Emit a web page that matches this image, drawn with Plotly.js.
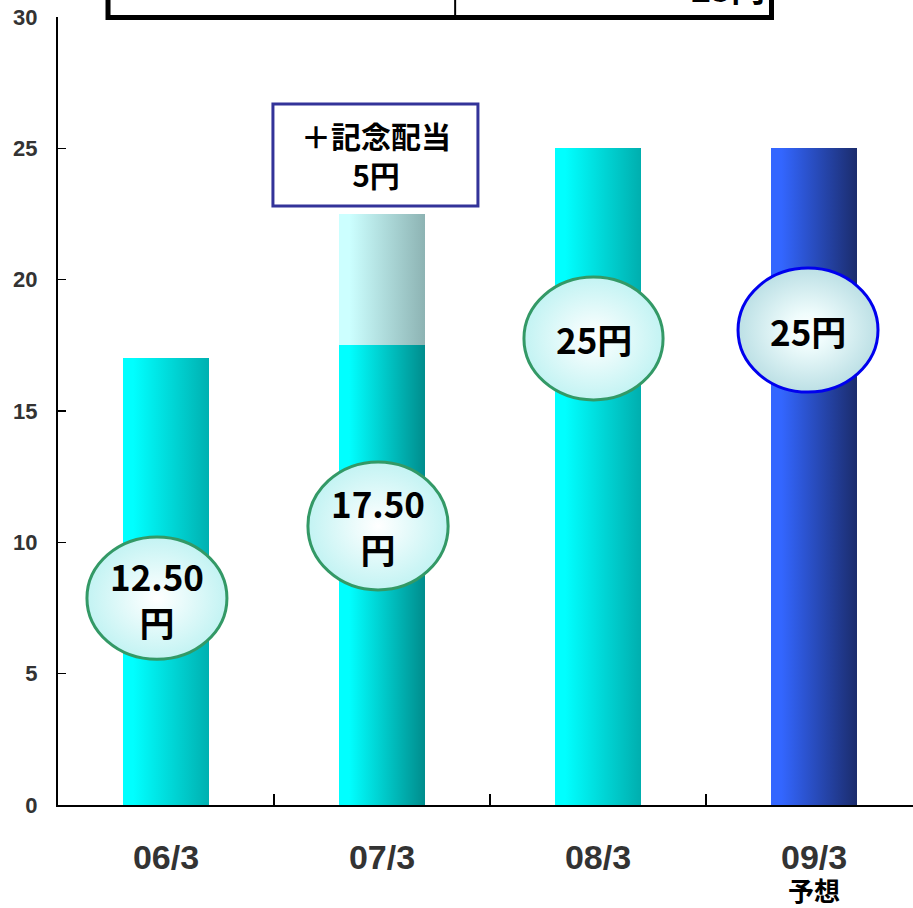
<!DOCTYPE html>
<html><head><meta charset="utf-8">
<script src="https://cdn.plot.ly/plotly-3.0.1.min.js"></script>
<style>html,body{margin:0;padding:0;background:#fff}#chart{width:913px;height:908px}</style>
</head><body><div id="chart"></div>
<script>
// ---- data ----
const categories = ['06/3', '07/3', '08/3', '09/3'];
const tickLabels = ['06/3', '07/3', '08/3', '09/3'];
const forecastNote = '予想';          // shown under the 09/3 label
const forecastCategory = '09/3';
const ordinaryDividend = [17, 17.5, 25, 25];
const commemorativeDividend = [0, 5, 0, 0];
const bubbleLabels = ['12.50<br>円', '17.50<br>円', '25円', '25円'];
const noteText = '＋記念配当<br>5円';
const topBoxText = '25円';

// ---- styling (not data) ----
const gradOrdinary = [['#00FFFF', '#00B0B0'], ['#00FFFF', '#008C8C'], ['#00FFFF', '#00AEAE'], ['#3366FF', '#1B2C6C']];
const gradCommem = ['#CCFFFF', '#8DB3B3'];
// ellipse boxes [x0,x1,y0,y1] in axis units
const bubbleBoxes = [[-0.366, 0.282, 5.55, 10.2], [0.657, 1.306, 8.19, 13.06], [1.657, 2.301, 15.42, 20.1], [2.648, 3.296, 15.72, 20.44]];
const bubbleBorder = ['#339966', '#339966', '#339966', '#0000EE'];
const bubbleEdge = ['#BDF2F2', '#BDF2F2', '#BDF2F2', '#B5DCE2'];

const FONT = 'Liberation Sans, Arial, sans-serif';
const JP = 'Noto Sans CJK JP, sans-serif';

const traces = [
  {type: 'bar', x: categories, y: ordinaryDividend, width: 0.4, marker: {color: '#00D8D8', line: {width: 0}}, hoverinfo: 'skip'},
  {type: 'bar', x: categories, y: commemorativeDividend, width: 0.4, marker: {color: '#AEDADA', line: {width: 0}}, hoverinfo: 'skip'}
];

const shapes = [];
const annotations = [];
bubbleBoxes.forEach((b, i) => {
  shapes.push({type: 'circle', xref: 'x', yref: 'y', x0: b[0], x1: b[1], y0: b[2], y1: b[3],
    line: {color: bubbleBorder[i], width: 3}, fillcolor: bubbleEdge[i], layer: 'above'});
  annotations.push({xref: 'x', yref: 'y', x: (b[0] + b[1]) / 2, y: (b[2] + b[3]) / 2, text: bubbleLabels[i],
    showarrow: false, font: {family: JP, size: 35, color: '#000', weight: 'bold'}, xanchor: 'center', yanchor: 'middle'});
});
// note box
shapes.push({type: 'rect', xref: 'x', yref: 'y', x0: 0.495, x1: 1.444, y0: 22.8, y1: 26.69,
  line: {color: '#333399', width: 3}, fillcolor: '#FFFFFF', layer: 'above'});
annotations.push({xref: 'x', yref: 'y', x: 0.97, y: 24.75, text: noteText, showarrow: false,
  font: {family: JP, size: 30, color: '#000', weight: 'bold'}, xanchor: 'center', yanchor: 'middle'});
// top (cut off) box
shapes.push({type: 'rect', xref: 'paper', yref: 'paper', x0: 0.0585, x1: 0.8345, y0: 0.9995, y1: 1.2,
  line: {color: '#000', width: 5}, fillcolor: '#FFFFFF', layer: 'above'});
shapes.push({type: 'line', xref: 'paper', yref: 'paper', x0: 0.4645, x1: 0.4645, y0: 0.9995, y1: 1.2,
  line: {color: '#000', width: 2}, layer: 'above'});
annotations.push({xref: 'paper', yref: 'paper', x: 0.829, y: 1.0065, text: topBoxText, showarrow: false,
  font: {family: JP, size: 34, color: '#000', weight: 'bold'}, xanchor: 'right', yanchor: 'bottom', yshift: -2});
// forecast note under the last category label
annotations.push({xref: 'x', yref: 'paper', x: forecastCategory, y: -0.1066, text: forecastNote, showarrow: false,
  font: {family: JP, size: 26, color: '#000', weight: 'bold'}, xanchor: 'center', yanchor: 'middle'});

const layout = {
  width: 913, height: 908,
  margin: {l: 58, r: 0, t: 17, b: 103, pad: 0},
  paper_bgcolor: '#fff', plot_bgcolor: '#fff',
  barmode: 'stack', showlegend: false,
  xaxis: {type: 'category', range: [-0.5, 3.458], tickson: 'boundaries', ticks: 'inside', ticklen: 11,
    tickcolor: '#000', tickwidth: 1.5, showline: true, linecolor: '#000', linewidth: 2, showgrid: false,
    tickmode: 'array', tickvals: categories, ticktext: tickLabels, ticklabelstandoff: 21,
    tickfont: {family: FONT, size: 34, color: '#333333', weight: 'bold'}, zeroline: false, fixedrange: true},
  yaxis: {range: [0, 30], dtick: 5, ticks: 'inside', ticklen: 8, tickcolor: '#000', tickwidth: 1.5,
    showline: true, linecolor: '#000', linewidth: 2, showgrid: false, zeroline: false, ticklabelstandoff: 14,
    tickfont: {family: FONT, size: 22, color: '#333333', weight: 'bold'}, fixedrange: true},
  shapes: shapes, annotations: annotations
};

const gd = document.getElementById('chart');
Plotly.newPlot(gd, traces, layout, {displayModeBar: false, staticPlot: true}).then(() => {
  const NS = 'http://www.w3.org/2000/svg';
  const svg = gd.querySelector('.main-svg');
  let defs = svg.querySelector('defs');
  if (!defs) { defs = document.createElementNS(NS, 'defs'); svg.insertBefore(defs, svg.firstChild); }
  function linGrad(id, c1, c2) {
    const g = document.createElementNS(NS, 'linearGradient');
    g.setAttribute('id', id); g.setAttribute('x1', '0'); g.setAttribute('x2', '1'); g.setAttribute('y1', '0'); g.setAttribute('y2', '0');
    [[0, c1], [0.12, c1], [1, c2]].forEach(s => {
      const st = document.createElementNS(NS, 'stop');
      st.setAttribute('offset', s[0]); st.setAttribute('stop-color', s[1]); g.appendChild(st);
    });
    defs.appendChild(g);
  }
  function radGrad(id, c2) {
    const g = document.createElementNS(NS, 'radialGradient');
    g.setAttribute('id', id); g.setAttribute('cx', '0.5'); g.setAttribute('cy', '0.5'); g.setAttribute('r', '0.55');
    [[0, '#FFFFFF'], [0.25, '#EFFCFC'], [1, c2]].forEach(s => {
      const st = document.createElementNS(NS, 'stop');
      st.setAttribute('offset', s[0]); st.setAttribute('stop-color', s[1]); g.appendChild(st);
    });
    defs.appendChild(g);
  }
  const barTraces = gd.querySelectorAll('.barlayer .trace');
  barTraces.forEach((t, ti) => {
    t.querySelectorAll('.point path').forEach((p, j) => {
      const id = 'bg' + ti + '_' + j;
      if (ti === 0) linGrad(id, gradOrdinary[j][0], gradOrdinary[j][1]);
      else linGrad(id, gradCommem[0], gradCommem[1]);
      p.style.fill = 'url(#' + id + ')';
      p.style.fillOpacity = 1;
    });
  });
  bubbleBoxes.forEach((b, i) => {
    const p = gd.querySelector('.shapelayer path[data-index="' + i + '"]');
    if (p) {
      radGrad('rg' + i, bubbleEdge[i]);
      p.style.fill = 'url(#rg' + i + ')';
      p.style.fillOpacity = 1;
    }
  });
});
</script></body></html>
